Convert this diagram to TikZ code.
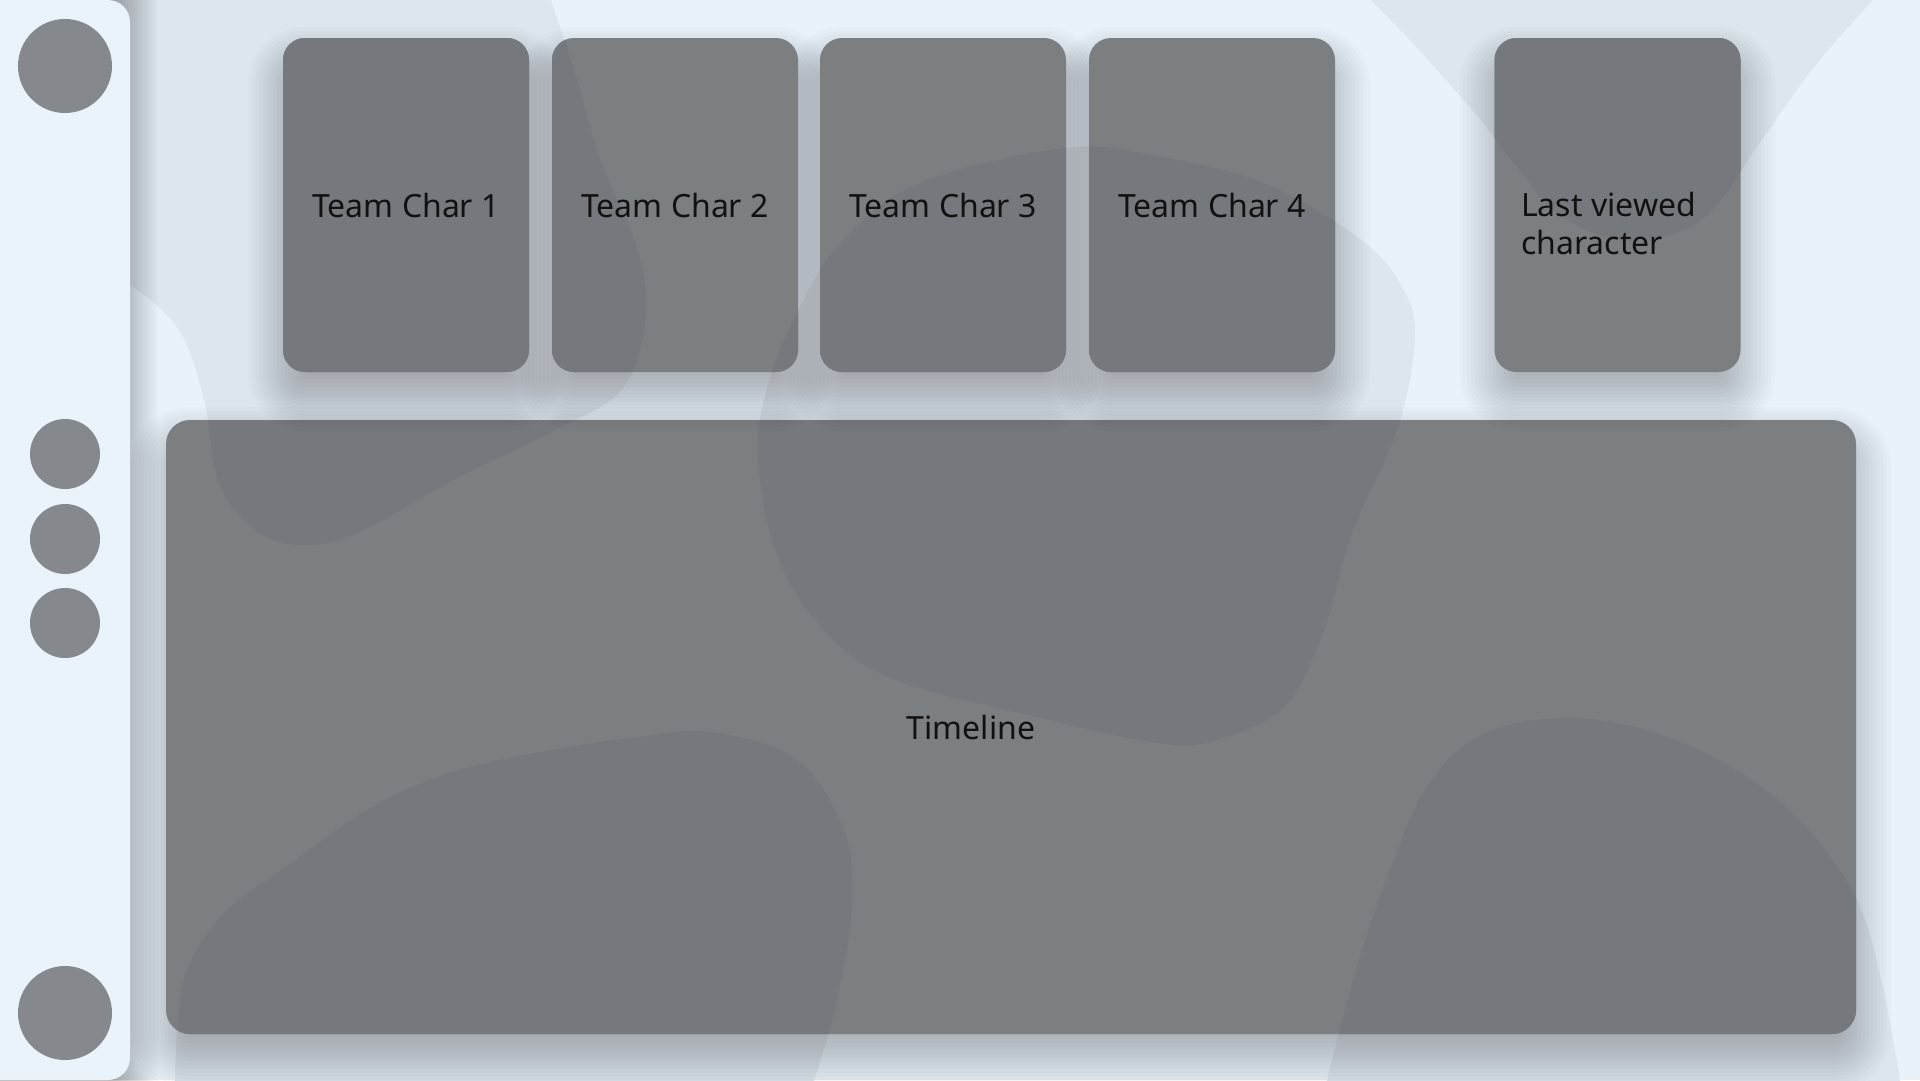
\documentclass[tikz,border=0pt]{standalone}
\usepackage{fontspec}
\setmainfont{Noto Sans}
\definecolor{bgc}{HTML}{E9F1F9}
\definecolor{blobc}{HTML}{DDE5ED}
\definecolor{sidec}{HTML}{EAF2FA}
\definecolor{cardl}{HTML}{7B7F82}
\definecolor{cardd}{HTML}{75787D}
\definecolor{circc}{HTML}{85888D}
\definecolor{textc}{HTML}{111111}
\newcommand{\blobA}{(-60,-60) -- (540,-60) -- plot[smooth,tension=0.6] coordinates {(551,0) (575,73) (600,159) (635,242) (646,315) (623,388) (561,427) (459,477) (357,533) (301,545) (255,530) (219,483) (204,400) (179,330) (130,285) (90,268)} -- (-60,268) -- cycle}
\newcommand{\blobB}{plot[smooth cycle,tension=0.6] coordinates {(1065,148) (1151,155) (1266,184) (1364,242) (1404,291) (1415,339) (1398,427) (1352,533) (1324,630) (1283,708) (1209,742) (1151,742) (1037,717) (893,679) (824,630) (778,557) (758,460) (767,388) (796,315) (841,242) (922,182)}}
\newcommand{\blobC}{(1340,-60) -- plot[smooth,tension=0.6] coordinates {(1371,0) (1419,50) (1478,117) (1517,167) (1557,213) (1616,240) (1676,233) (1715,207) (1755,150) (1814,67) (1873,0)} -- (1900,-60) -- cycle}
\newcommand{\blobD}{(150,1140) -- plot[smooth,tension=0.6] coordinates {(175,1080) (184,980) (224,913) (286,867) (367,810) (449,773) (551,750) (640,737) (710,732) (796,759) (845,833) (851,918) (833,1016) (814,1080)} -- (810,1140) -- cycle}
\newcommand{\blobE}{(1320,1140) -- plot[smooth,tension=0.6] coordinates {(1327,1080) (1357,967) (1391,867) (1429,783) (1485,733) (1570,718) (1656,733) (1741,773) (1806,827) (1857,900) (1882,983) (1900,1080)} -- (1905,1140) -- cycle}
% soft shadow: x1 y1 x2 y2 radius dx dy blur opacity-per-step
\newcommand{\softshadow}[9]{%
  \foreach \k in {0,...,19}{%
    \pgfmathsetmacro{\e}{-#8/2+#8*\k/19}%
    \pgfmathsetmacro{\rr}{max(#5+\e,0.5)}%
    \fill[black, fill opacity=#9, rounded corners=\rr pt]
      ({#1+#6-(\e)}, {#2+#7-(\e)}) rectangle ({#3+#6+\e}, {#4+#7+\e});
  }}
\begin{document}
\begin{tikzpicture}[x=1pt,y=-1pt,
  cardbox/.style={rectangle, draw=none, fill=cardl, rounded corners=22pt,
    minimum width=246pt, minimum height=334pt, inner sep=0pt, outer sep=0pt},
  panelbox/.style={rectangle, draw=none, fill=cardl, rounded corners=24pt,
    minimum width=1690pt, minimum height=614pt, inner sep=0pt, outer sep=0pt},
  bigdot/.style={circle, fill=circc, draw=none, minimum size=94pt, inner sep=0pt},
  smalldot/.style={circle, fill=circc, draw=none, minimum size=70pt, inner sep=0pt},
  lbl/.style={text=textc, inner sep=0pt, font=\fontsize{32}{38}\selectfont},
  blob/.style={fill=blobc, draw=none}
]
\useasboundingbox (0,0) rectangle (1920,1080);
\clip (0,0) rectangle (1920,1080);
% background
\fill[bgc] (0,0) rectangle (1920,1080);
\fill[blob] \blobA;
\fill[blob] \blobB;
\fill[blob] \blobC;
\fill[blob] \blobD;
\fill[blob] \blobE;
% sidebar
\softshadow{-40}{-40}{130}{1120}{22}{6}{0}{44}{0.014}
\node[rectangle, fill=sidec, draw=none, rounded corners=22pt, inner sep=0pt, outer sep=0pt,
  minimum width=190pt, minimum height=1080pt] (side) at (35,540) {};
% timeline panel
\softshadow{166}{420}{1856}{1034}{24}{0}{22}{70}{0.016}
\node[panelbox] (tl) at (1011,727) {};
\begin{scope}
  \clip[rounded corners=24pt] (tl.north west) rectangle (tl.south east);
  \fill[cardd] \blobA;
  \fill[cardd] \blobB;
  \fill[cardd] \blobC;
  \fill[cardd] \blobD;
  \fill[cardd] \blobE;
\end{scope}
% cards
\softshadow{283}{38}{529}{372}{22}{0}{24}{70}{0.016}
\softshadow{552}{38}{798}{372}{22}{0}{24}{70}{0.016}
\softshadow{820}{38}{1066}{372}{22}{0}{24}{70}{0.016}
\softshadow{1089}{38}{1335}{372}{22}{0}{24}{70}{0.016}
\softshadow{1494.5}{38}{1740.5}{372}{22}{0}{24}{70}{0.016}
\node[cardbox] (c1) at (406,205) {};
\node[cardbox] (c2) at (675,205) {};
\node[cardbox] (c3) at (943,205) {};
\node[cardbox] (c4) at (1212,205) {};
\node[cardbox] (c5) at (1617.5,205) {};
\begin{scope}
  \clip[rounded corners=22pt] (c1.north west) rectangle (c1.south east)
    (c2.north west) rectangle (c2.south east)
    (c3.north west) rectangle (c3.south east)
    (c4.north west) rectangle (c4.south east)
    (c5.north west) rectangle (c5.south east);
  \fill[cardd] \blobA;
  \fill[cardd] \blobB;
  \fill[cardd] \blobC;
  \fill[cardd] \blobD;
  \fill[cardd] \blobE;
\end{scope}
% sidebar icons
\node[bigdot] (d1) at (65,66) {};
\node[smalldot] (d2) at (65,454) {};
\node[smalldot] (d3) at (65,539) {};
\node[smalldot] (d4) at (65,623) {};
\node[bigdot] (d5) at (65,1013) {};
% labels
\node[lbl] (t1) at (c1) {Team Char 1};
\node[lbl] (t2) at (c2) {Team Char 2};
\node[lbl] (t3) at (c3) {Team Char 3};
\node[lbl] (t4) at (c4) {Team Char 4};
\node[lbl, anchor=west, align=left] (t5) at (1521,223) {Last viewed\\character};
\node[lbl] (t6) at (971,727) {Timeline};
\end{tikzpicture}
\end{document}
